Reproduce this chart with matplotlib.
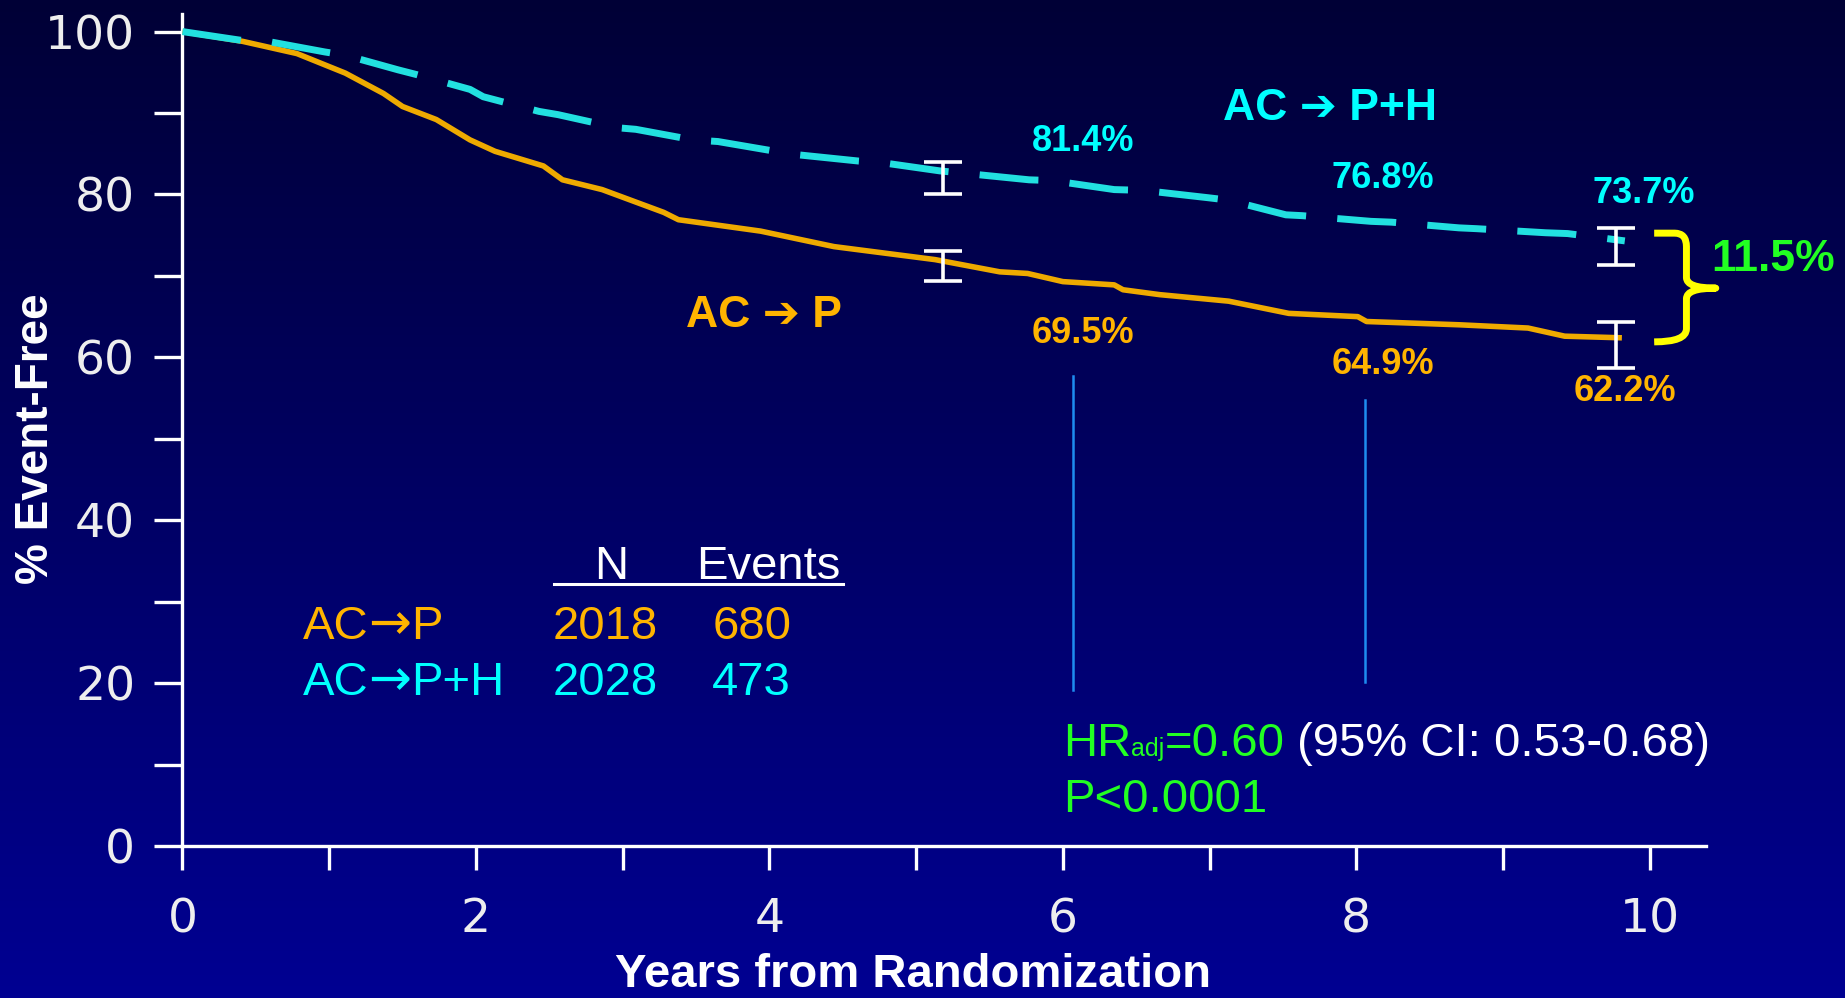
import numpy as np
import matplotlib
matplotlib.use("Agg")
import matplotlib.pyplot as plt
from matplotlib.colors import LinearSegmentedColormap
from matplotlib.path import Path
from matplotlib.patches import PathPatch

### données (Kaplan-Meier, survie sans événement)
years_p = [0, 0.41, 0.78, 1.11, 1.37, 1.50, 1.73, 1.96, 2.13, 2.46, 2.59, 2.86, 3.28, 3.38, 3.94,
           4.44, 5.13, 5.57, 5.76, 6.00, 6.35, 6.41, 6.66, 7.13, 7.54, 8.01, 8.07, 8.70, 9.17, 9.42, 9.81]
efs_p = [100, 98.8, 97.3, 94.9, 92.4, 90.8, 89.2, 86.7, 85.3, 83.5, 81.8, 80.6, 77.8, 76.9, 75.5,
         73.6, 72.0, 70.5, 70.3, 69.3, 68.9, 68.3, 67.7, 66.9, 65.4, 65.0, 64.4, 64.0, 63.6, 62.6, 62.4]

years_ph = [0, 0.41, 0.58, 0.97, 1.11, 1.47, 1.60, 1.96, 2.05, 2.43, 2.56, 2.96, 3.09, 3.48, 3.65, 4.04,
            4.18, 4.61, 4.77, 5.16, 5.33, 5.77, 5.93, 6.35, 6.55, 6.99, 7.13, 7.52, 7.63, 8.10, 8.24, 8.70,
            8.82, 9.29, 9.44, 9.83]
efs_ph = [100, 98.9, 98.8, 97.5, 97.1, 95.3, 94.7, 92.9, 92.0, 90.2, 89.8, 88.2, 88.0, 86.7, 86.5, 85.3,
          84.9, 84.1, 83.9, 82.9, 82.6, 81.8, 81.7, 80.6, 80.5, 79.6, 79.3, 77.5, 77.4, 76.7, 76.6, 75.9,
          75.8, 75.3, 75.2, 74.3]

### intervalles de confiance
ci_years = [5.18, 9.77]
ci_p_low = [69.4, 58.7]
ci_p_high = [73.0, 64.4]
ci_ph_low = [80.0, 71.4]
ci_ph_high = [84.0, 75.9]

### taux annotés
rate_labels_ph = ["81.4%", "76.8%", "73.7%"]
rate_labels_p = ["69.5%", "64.9%", "62.2%"]
diff_label = "11.5%"

arms_after = ["P", "P+H"]
n_pat = [2018, 2028]
n_events = [680, 473]

ORANGE = "#FFB400"
CYAN = "#00FFFF"
GREEN = "#22FF22"
WHITE = "#FFFFFF"

plt.rcParams['font.family'] = ['Liberation Sans', 'DejaVu Sans']

fig = plt.figure(figsize=(18.45, 9.98), dpi=100)

### fond en dégradé
bg = fig.add_axes([0, 0, 1, 1], zorder=-10)
bg.axis('off')
grad = np.linspace(0, 1, 256).reshape(-1, 1)
cmap = LinearSegmentedColormap.from_list('bg', ['#000036', '#000092'])
bg.imshow(grad, aspect='auto', cmap=cmap, extent=[0, 1, 0, 1], origin='upper')

ax = fig.add_axes([0.0989, 0.1523, 0.8255, 0.834])
ax.set_facecolor('none')

### courbes
ax.plot(years_p, efs_p, color="#EEAA00", lw=4, solid_capstyle='butt', zorder=3)
ax.plot(years_ph, efs_ph, color="#22E0E0", lw=5, dashes=(8.5, 4.5), zorder=3)

### barres d'erreur
for lo, hi in [(ci_p_low, ci_p_high), (ci_ph_low, ci_ph_high)]:
    mid = [(a + b) / 2 for a, b in zip(lo, hi)]
    err = [(b - a) / 2 for a, b in zip(lo, hi)]
    ax.errorbar(ci_years, mid, yerr=err, fmt='none', ecolor=WHITE, elinewidth=2.6,
                capsize=14, capthick=2.6, zorder=4)

### lignes verticales
ax.plot([6.07, 6.07], [19.2, 57.7], color="#1E8CF0", lw=1.8)
ax.plot([8.06, 8.06], [20.1, 54.8], color="#1E8CF0", lw=1.8)

### axes
ax.set_xlim(0, 10.38)
ax.set_ylim(0, 102.2)
for s in ['top', 'right']:
    ax.spines[s].set_visible(False)
for s in ['left', 'bottom']:
    ax.spines[s].set_color(WHITE)
    ax.spines[s].set_linewidth(2.4)
ax.set_xticks(range(0, 11, 2))
ax.set_xticks([1, 3, 5, 7, 9], minor=True)
ax.set_yticks(range(0, 101, 20))
ax.set_yticks(range(10, 100, 20), minor=True)
ax.tick_params(axis='x', which='both', direction='out', length=17, width=2.4, color=WHITE, pad=20)
ax.tick_params(axis='y', which='both', direction='out', length=20, width=2.4, color=WHITE, pad=14)
ax.tick_params(labelsize=34, labelcolor="#EEEEEE")
for lab in ax.get_xticklabels() + ax.get_yticklabels():
    lab.set_family('DejaVu Sans')

fig.text(0.0195, 0.5 * (0.1523 * 2 + 0.834 * 100 / 102.2), "% Event-Free", rotation=90, color=WHITE,
         fontsize=33, fontweight='bold', ha='center', va='center')
fig.text(0.495, 0.011, "Years from Randomization", color=WHITE, fontsize=34, fontweight='bold',
         ha='center', va='baseline')

### étiquettes
ax.text(7.82, 90.5, "AC \u2794 P+H", color=CYAN, fontsize=32, fontweight='bold', ha='center', va='center')
ax.text(3.96, 65.2, "AC \u2794 P", color=ORANGE, fontsize=32, fontweight='bold', ha='center', va='center')

pos_ph = [(6.14, 86.5), (8.18, 81.9), (9.96, 80.1)]
pos_p = [(6.14, 62.9), (8.18, 59.1), (9.83, 55.8)]
for lab, (x, y) in zip(rate_labels_ph, pos_ph):
    ax.text(x, y, lab, color=CYAN, fontsize=26, fontweight='bold', ha='center', va='center')
for lab, (x, y) in zip(rate_labels_p, pos_p):
    ax.text(x, y, lab, color=ORANGE, fontsize=26, fontweight='bold', ha='center', va='center')

### accolade
verts = [(10.03, 75.25), (10.17, 75.25), (10.25, 75.25), (10.25, 73.6), (10.25, 69.8),
         (10.25, 68.5), (10.45, 68.5), (10.25, 68.5), (10.25, 67.2), (10.25, 63.5),
         (10.25, 61.9), (10.03, 61.9)]
codes = [Path.MOVETO, Path.LINETO, Path.CURVE3, Path.CURVE3, Path.LINETO,
         Path.CURVE3, Path.CURVE3, Path.CURVE3, Path.CURVE3, Path.LINETO,
         Path.CURVE3, Path.CURVE3]
ax.add_patch(PathPatch(Path(verts, codes), facecolor='none', edgecolor='#FFFF00', lw=5,
                       capstyle='butt', joinstyle='round', clip_on=False, zorder=5))
ax.text(10.42, 72.0, diff_label, color=GREEN, fontsize=32, fontweight='bold', ha='left', va='center')

### tableau N / Events
ax.text(2.92, 32.8, "N", color=WHITE, fontsize=34, ha='center', va='baseline')
ax.text(3.50, 32.8, "Events", color=WHITE, fontsize=34, ha='left', va='baseline')
ax.plot([2.53, 4.50], [32.2, 32.2], color=WHITE, lw=2.2, clip_on=False)
rows_y = [25.4, 18.5]
cols = [ORANGE, CYAN]
for after, n, ev, y, c in zip(arms_after, n_pat, n_events, rows_y, cols):
    a1 = ax.text(0.82, y, "AC", color=c, fontsize=34, ha='left', va='baseline')
    a2 = ax.annotate("\u2192", xy=(1, y), xycoords=(a1, 'data'), color=c, fontsize=37,
                     family='DejaVu Sans', va='baseline')
    ax.annotate(after, xy=(1, y), xycoords=(a2, 'data'), color=c, fontsize=34, va='baseline')
    ax.text(2.52, y, str(n), color=c, fontsize=34, ha='left', va='baseline')
    ax.text(3.61, y, str(ev), color=c, fontsize=34, ha='left', va='baseline')

### rapport de risque
t1 = ax.text(6.0, 11.0, "HR", color=GREEN, fontsize=34, va='baseline')
t2 = ax.annotate("adj", xy=(1, 11.0), xycoords=(t1, 'data'), color=GREEN, fontsize=18, va='baseline')
t3 = ax.annotate("=0.60", xy=(1, 11.0), xycoords=(t2, 'data'), color=GREEN, fontsize=34, va='baseline')
ax.annotate(" (95% CI: 0.53-0.68)", xy=(1, 11.0), xycoords=(t3, 'data'), color=WHITE, fontsize=34,
            va='baseline')
ax.text(6.0, 4.2, "P<0.0001", color=GREEN, fontsize=34, va='baseline')

fig.savefig("out.png", dpi=100)
